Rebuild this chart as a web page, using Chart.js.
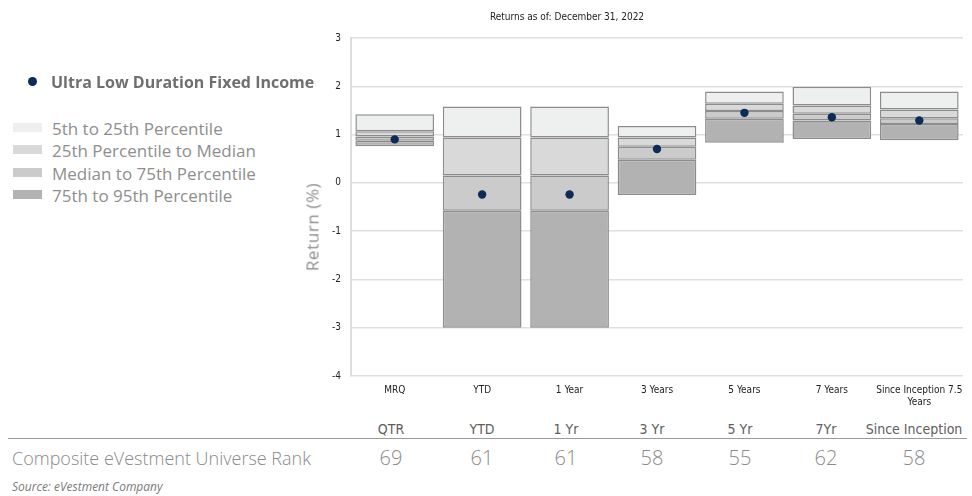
<!DOCTYPE html>
<html>
<head>
<meta charset="utf-8">
<script src="https://cdn.jsdelivr.net/npm/chart.js@4/dist/chart.umd.min.js"></script>
<style>
  html, body { margin: 0; padding: 0; background: #fff; }
  #wrap { position: relative; width: 972px; height: 496px; overflow: hidden; font-family: "Open Sans", "Liberation Sans", sans-serif; }
  #chartBox { position: absolute; left: 300px; top: 0; width: 672px; height: 410px; }
  .abs { position: absolute; white-space: nowrap; }
  #title { left: 567px; top: 11px; transform: translateX(-50%); font: 10px "Liberation Sans Narrow", "DejaVu Sans Condensed", sans-serif; color: #222; }
  #yTitle { left: 312px; top: 227px; transform: translate(-50%, -50%) rotate(-90deg); font: 17px "Open Sans", sans-serif; letter-spacing: 0.6px; color: #8e8e8e; }
  #fundLeg { left: 28px; top: 71px; font: bold 16px "Open Sans", sans-serif; color: #6f6f6f; }
  #fundLeg span.dot { display: inline-block; width: 9px; height: 9px; border-radius: 50%; background: #0d2b57; margin-right: 14px; vertical-align: 2px; }
  .leg { left: 13px; font: 17px "Open Sans", sans-serif; color: #8e8e8e; }
  .leg span.sw { display: inline-block; width: 29px; height: 9px; margin-right: 10px; vertical-align: 3px; }
  #rule { left: 8px; top: 438px; width: 959px; height: 0; border-top: 1.5px solid #9a9a9a; }
  .hdr { top: 421px; transform: translateX(-50%); font: 14px "Liberation Sans Narrow", "DejaVu Sans Condensed", sans-serif; color: #5e5e5e; }
  .val { top: 444px; transform: translateX(-50%); font: 300 20px "Open Sans", sans-serif; color: #8a8a8a; }
  #rowLabel { left: 12px; top: 446px; font: 300 18px "Open Sans", sans-serif; color: #8a8a8a; }
  #source { left: 12px; top: 478px; font: italic 12px "Open Sans", sans-serif; color: #7a7a7a; }
</style>
</head>
<body>
<div id="wrap">
  <div id="chartBox"><canvas id="c"></canvas></div>
  <div id="title" class="abs"></div>
  <div id="yTitle" class="abs">Return (%)</div>
  <div id="legend"></div>
  <div id="rule" class="abs"></div>
  <div id="table"></div>
  <div id="source" class="abs">Source: eVestment Company</div>
</div>
<script>
// Return periods along the x axis
const categories = ['MRQ', 'YTD', '1 Year', '3 Years', '5 Years', '7 Years', ['Since Inception 7.5', 'Years']];

// Universe percentile breakpoints (%)
const pct5   = [1.42, 1.58, 1.58, 1.18, 1.89, 1.99, 1.89];
const pct25  = [1.07, 0.94, 0.94, 0.94, 1.64, 1.60, 1.52];
const median = [0.96, 0.15, 0.15, 0.75, 1.49, 1.43, 1.34];
const pct75  = [0.87, -0.58, -0.58, 0.48, 1.33, 1.29, 1.22];
const pct95  = [0.76, -3.00, -3.00, -0.25, 0.83, 0.91, 0.88];

// Fund returns (%)
const fundName = 'Ultra Low Duration Fixed Income';
const fundReturns = [0.90, -0.24, -0.24, 0.70, 1.45, 1.36, 1.29];

// Y axis ticks
const yTicks = [3, 2, 1, 0, -1, -2, -3, -4];

// Universe rank table
const rankHeaders = ['QTR', 'YTD', '1 Yr', '3 Yr', '5 Yr', '7Yr', 'Since Inception'];
const ranks = [69, 61, 61, 58, 55, 62, 58];
const rankLabel = 'Composite eVestment Universe Rank';
const titleText = 'Returns as of: December 31, 2022';

const bands = [
  { label: '5th to 25th Percentile',    lo: pct25,  hi: pct5,   color: '#eeefef' },
  { label: '25th Percentile to Median', lo: median, hi: pct25,  color: '#d9d9d9' },
  { label: 'Median to 75th Percentile', lo: pct75,  hi: median, color: '#cbcbcb' },
  { label: '75th to 95th Percentile',   lo: pct95,  hi: pct75,  color: '#b2b2b2' }
];

document.getElementById('title').textContent = titleText;

// Left-hand legend
const legend = document.getElementById('legend');
const fl = document.createElement('div');
fl.id = 'fundLeg'; fl.className = 'abs';
fl.innerHTML = '<span class="dot"></span>';
fl.appendChild(document.createTextNode(fundName));
legend.appendChild(fl);
bands.forEach((b, i) => {
  const d = document.createElement('div');
  d.className = 'abs leg';
  d.style.top = (117 + i * 22.4) + 'px';
  const sw = document.createElement('span');
  sw.className = 'sw'; sw.style.background = b.color;
  d.appendChild(sw);
  d.appendChild(document.createTextNode(b.label));
  legend.appendChild(d);
});

// Rank table
const tableX = [391, 482, 566, 652, 740, 826, 914];
const table = document.getElementById('table');
rankHeaders.forEach((h, i) => {
  const d = document.createElement('div');
  d.className = 'abs hdr'; d.style.left = tableX[i] + 'px'; d.textContent = h;
  table.appendChild(d);
  const v = document.createElement('div');
  v.className = 'abs val'; v.style.left = tableX[i] + 'px'; v.textContent = ranks[i];
  table.appendChild(v);
});
const rl = document.createElement('div');
rl.id = 'rowLabel'; rl.className = 'abs'; rl.textContent = rankLabel;
table.appendChild(rl);

// Chart
const datasets = bands.map(b => ({
  type: 'bar',
  label: b.label,
  data: b.lo.map((lo, i) => [lo, b.hi[i]]),
  backgroundColor: b.color,
  borderColor: '#8c8c8c',
  borderWidth: 1.5,
  borderSkipped: false,
  grouped: false,
  barPercentage: 0.9,
  categoryPercentage: 1.0,
  order: 2
}));
datasets.push({
  type: 'line',
  label: fundName,
  data: fundReturns,
  showLine: false,
  pointRadius: 4.2,
  pointBackgroundColor: '#0d2b57',
  pointBorderColor: '#0d2b57',
  pointBorderWidth: 0,
  order: 1
});

new Chart(document.getElementById('c'), {
  data: { labels: categories, datasets },
  options: {
    responsive: true,
    maintainAspectRatio: false,
    animation: false,
    layout: { padding: { top: 38, right: 9, bottom: 0, left: 0 } },
    plugins: { legend: { display: false }, tooltip: { enabled: false } },
    scales: {
      x: {
        grid: { display: false, drawTicks: false },
        border: { display: false },
        ticks: { color: '#222', font: { family: 'Liberation Sans Narrow, DejaVu Sans Condensed, sans-serif', size: 10 }, padding: 8, maxRotation: 0, autoSkip: false },
        afterFit: s => { s.height = 34; }
      },
      y: {
        min: -4, max: 3,
        afterBuildTicks: s => { s.ticks = yTicks.map(v => ({ value: v })); },
        grid: { color: '#e0e0e0', lineWidth: 1.5, drawTicks: false },
        border: { display: true, color: '#dcdcdc', width: 2 },
        ticks: { color: '#222', font: { family: 'Liberation Sans Narrow, DejaVu Sans Condensed, sans-serif', size: 10 }, padding: 10 },
        afterFit: s => { s.width = 51; }
      }
    }
  }
});
</script>
</body>
</html>
